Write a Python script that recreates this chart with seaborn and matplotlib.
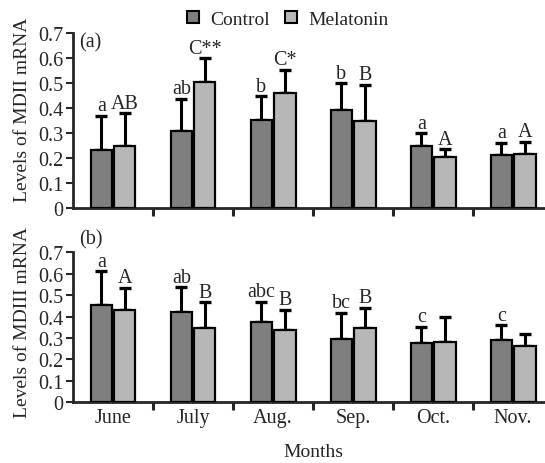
import matplotlib
matplotlib.use('Agg')
import matplotlib.pyplot as plt
from matplotlib.lines import Line2D
import numpy as np
import pandas as pd
import seaborn as sns

months = ['June', 'July', 'Aug.', 'Sep.', 'Oct.', 'Nov.']
groups = ['Control', 'Melatonin']

# panel (a) MDII
mdii_control = [0.235, 0.309, 0.355, 0.395, 0.251, 0.213]
mdii_control_err = [0.136, 0.128, 0.093, 0.105, 0.049, 0.048]
mdii_mel = [0.251, 0.504, 0.461, 0.348, 0.205, 0.217]
mdii_mel_err = [0.129, 0.096, 0.092, 0.145, 0.031, 0.050]
mdii_control_sig = ['a', 'ab', 'b', 'b', 'a', 'a']
mdii_mel_sig = ['AB', 'C**', 'C*', 'B', 'A', 'A']

# panel (b) MDIII
mdiii_control = [0.454, 0.420, 0.373, 0.296, 0.277, 0.291]
mdiii_control_err = [0.157, 0.117, 0.097, 0.121, 0.076, 0.068]
mdiii_mel = [0.432, 0.345, 0.336, 0.345, 0.283, 0.261]
mdiii_mel_err = [0.102, 0.122, 0.096, 0.097, 0.114, 0.058]
mdiii_control_sig = ['a', 'ab', 'abc', 'bc', 'c', 'c']
mdiii_mel_sig = ['A', 'B', 'B', 'B', '', '']

colors = {'Control': '#7f7f7f', 'Melatonin': '#b7b7b7'}

sns.set_style('ticks')
plt.rcParams['font.family'] = ['Liberation Serif', 'DejaVu Serif']
plt.rcParams['font.size'] = 14


def make_df(ctrl, ctrl_err, mel, mel_err):
    rows = []
    for m, v, e in zip(months, ctrl, ctrl_err):
        rows.append({'month': m, 'group': 'Control', 'value': v, 'err': e})
    for m, v, e in zip(months, mel, mel_err):
        rows.append({'month': m, 'group': 'Melatonin', 'value': v, 'err': e})
    return pd.DataFrame(rows)


def draw_panel(ax, df, sig, ylabel, panel, show_xlabels, label_y, panel_y):
    sns.barplot(data=df, x='month', y='value', hue='group', order=months,
                hue_order=groups, palette=colors, width=0.59, gap=0.1,
                edgecolor='black', linewidth=1.6, errorbar=None,
                legend=False, ax=ax, zorder=3)

    # patches come out grouped by hue, then by month
    bars = [p for p in ax.patches if p.get_height() > 0]
    errs = list(df['err'])
    for bar, err, s in zip(bars, errs, sig):
        xc = bar.get_x() + bar.get_width() / 2
        h = bar.get_height()
        ax.errorbar(xc, h, yerr=[[0], [err]], fmt='none', ecolor='black',
                    elinewidth=2.2, capsize=4.5, capthick=2.4, zorder=2)
        if s:
            ax.annotate(s, (xc, h + err), xytext=(0, 0.5),
                        textcoords='offset points', ha='center', va='bottom',
                        fontsize=14.5)

    ax.set_xlim(-0.5, 5.5)
    ax.set_ylim(0, 0.7)
    ax.set_yticks(np.arange(0, 0.71, 0.1))
    ax.set_yticklabels(['0', '0.1', '0.2', '0.3', '0.4', '0.5', '0.6', '0.7'])
    ax.set_xticks(range(len(months)))
    ax.set_xticks(np.arange(0.5, 5.0, 1.0), minor=True)
    ax.tick_params(axis='x', which='major', length=0, pad=4, labelsize=14.5)
    ax.tick_params(axis='x', which='minor', length=6, width=2.2, direction='out')
    ax.tick_params(axis='y', length=5, width=1.5, direction='out', pad=2,
                   labelsize=14.5)
    if show_xlabels:
        ax.set_xticklabels(months)
        ax.set_xlabel('Months', labelpad=12)
    else:
        ax.set_xticklabels([])
        ax.set_xlabel('')
    ax.set_ylabel(ylabel)
    ax.yaxis.set_label_coords(-0.087, label_y)
    for side in ['left', 'bottom']:
        ax.spines[side].set_linewidth(2)
    sns.despine(ax=ax)
    ax.text(0.012, panel_y, panel, transform=ax.transAxes, va='center',
            ha='left', fontsize=14.5)


fig = plt.figure(figsize=(5.45, 4.64), dpi=100)
ax_a = fig.add_axes([0.134, 0.549, 0.881, 0.377])
ax_b = fig.add_axes([0.134, 0.131, 0.881, 0.323])

df_a = make_df(mdii_control, mdii_control_err, mdii_mel, mdii_mel_err)
df_b = make_df(mdiii_control, mdiii_control_err, mdiii_mel, mdiii_mel_err)

draw_panel(ax_a, df_a, mdii_control_sig + mdii_mel_sig,
           'Levels of MDII mRNA', '(a)', False, 0.567, 0.95)
draw_panel(ax_b, df_b, mdiii_control_sig + mdiii_mel_sig,
           'Levels of MDIII mRNA', '(b)', True, 0.54, 1.09)

handles = [Line2D([], [], marker='s', linestyle='none', markersize=8,
                  markerfacecolor=colors[g], markeredgecolor='black',
                  markeredgewidth=1.5) for g in groups]
fig.legend(handles, groups, loc='center', bbox_to_anchor=(0.525, 0.957),
           ncol=2, frameon=False, handletextpad=0.4, columnspacing=0.6,
           handlelength=1.0, fontsize=14)

fig.savefig('out.png', dpi=100)
